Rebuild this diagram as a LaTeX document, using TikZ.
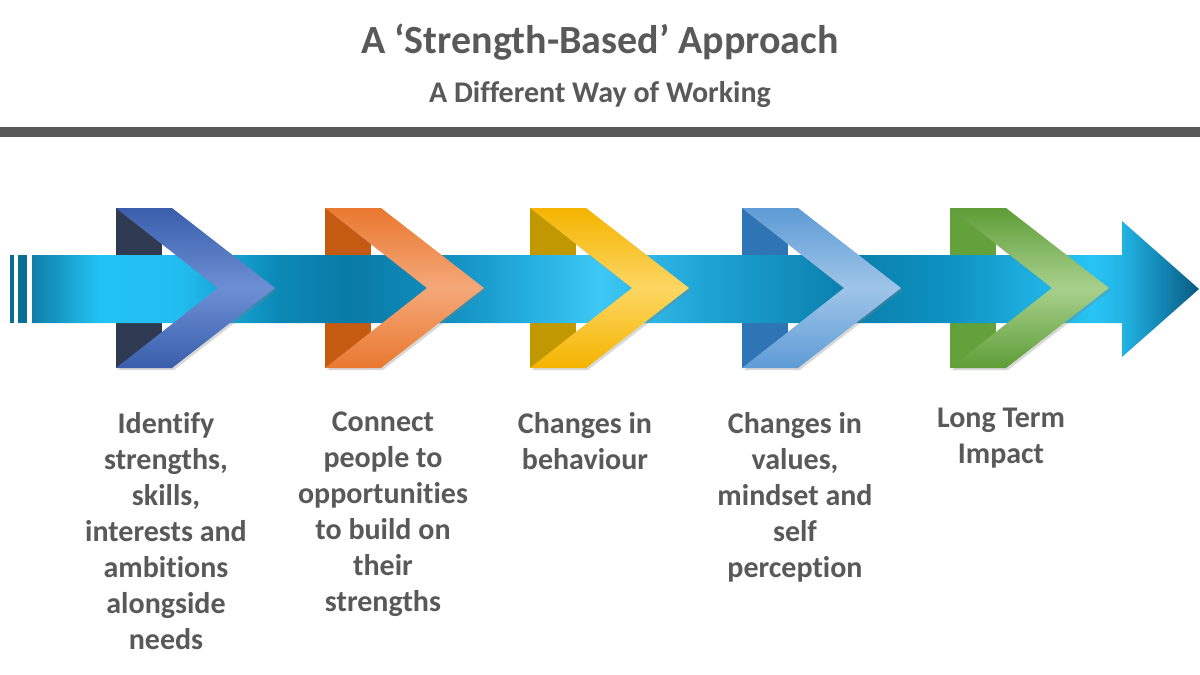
\documentclass[tikz,border=0pt]{standalone}
\usepackage{fontspec}
\setmainfont{Carlito}[Ligatures=CommonOff]
\usetikzlibrary{shadows}
\definecolor{txt}{HTML}{595959}
\definecolor{stripe}{HTML}{0A6F96}
\definecolor{sa}{HTML}{0F7EA8}
\definecolor{sb}{HTML}{22C3F4}
\definecolor{sc}{HTML}{22BDF0}
\definecolor{sd}{HTML}{0B88B5}
\definecolor{se}{HTML}{0A7AA6}
\definecolor{sf}{HTML}{1290C0}
\definecolor{sg}{HTML}{25AEE0}
\definecolor{sh}{HTML}{3EC8F5}
\definecolor{si}{HTML}{1FA5D6}
\definecolor{sj}{HTML}{0A7FAC}
\definecolor{sk}{HTML}{0E92C2}
\definecolor{sl}{HTML}{28C4F5}
\definecolor{sm}{HTML}{22B4E4}
\definecolor{sn}{HTML}{1488B6}
\definecolor{so}{HTML}{0A5A80}
\pgfdeclarehorizontalshading{shaftshade}{100bp}{color(0bp)=(sa); color(25bp)=(sa); color(27.9bp)=(sb); color(31.3bp)=(sc); color(35.6bp)=(sd); color(38.6bp)=(se); color(42.9bp)=(sf); color(46.3bp)=(sg); color(49.3bp)=(sh); color(53.6bp)=(si); color(60bp)=(sj); color(64.3bp)=(sk); color(70.5bp)=(sl); color(71.7bp)=(sm); color(73.3bp)=(sn); color(75bp)=(so); color(100bp)=(so)}
\definecolor{bka}{HTML}{2D3A52}\definecolor{eda}{HTML}{3A5EAB}\definecolor{mda}{HTML}{6C8FD4}
\definecolor{bkb}{HTML}{C55A11}\definecolor{edb}{HTML}{E9782F}\definecolor{mdb}{HTML}{F5A87A}
\definecolor{bkc}{HTML}{C29800}\definecolor{edc}{HTML}{F4B400}\definecolor{mdc}{HTML}{FDD663}
\definecolor{bkd}{HTML}{2E75B6}\definecolor{edd}{HTML}{5E9BD6}\definecolor{mdd}{HTML}{9FC5E8}
\definecolor{bke}{HTML}{63A23B}\definecolor{ede}{HTML}{5F9D37}\definecolor{mde}{HTML}{A8D08D}
\begin{document}
\begin{tikzpicture}[x=1pt,y=-1pt,
  lbl/.style={font=\bfseries\fontsize{30}{36}\selectfont, text=txt, align=center, inner sep=0pt, anchor=north},
  ttl/.style={font=\bfseries\fontsize{40}{44}\selectfont, text=txt, inner sep=0pt, anchor=base},
  subttl/.style={font=\bfseries\fontsize{30}{34}\selectfont, text=txt, inner sep=0pt, anchor=base}]
\useasboundingbox (0,0) rectangle (1200,675);
\fill[white] (0,0) rectangle (1200,675);
% title
\node[ttl] (title) at (600,53) {A ‘Strength-Based’ Approach};
\node[subttl] (subtitle) at (600,102) {A Different Way of Working};
\fill[txt] (0,127) rectangle (1200,137);
% back folds
\foreach \L/\bk in {116/bka,325/bkb,530/bkc,742/bkd,950/bke}
  \fill[\bk] (\L,208) rectangle (\L+46,368);
% stripes
\fill[stripe] (10,255) rectangle (14,323);
\fill[stripe] (18,255) rectangle (27,323);
% shaft with head
\path[shading=shaftshade] (32,255) -- (1122,255) -- (1122,221) -- (1199,289) -- (1122,357) -- (1122,323) -- (32,323) -- cycle;
% chevrons
\foreach \L/\ed/\md in {116/eda/mda,325/edb/mdb,530/edc/mdc,742/edd/mdd,950/ede/mde}
  \path[top color=\ed, bottom color=\ed, middle color=\md,
        drop shadow={shadow xshift=2pt, shadow yshift=-2pt, opacity=0.3}]
    (\L,208) -- (\L+56,208) -- (\L+159,288) -- (\L+56,368) -- (\L,368) -- (\L+102,288) -- cycle;
% labels
\node[lbl] (l1) at (166,412) {Identify\\strengths,\\skills,\\interests and\\ambitions\\alongside\\needs};
\node[lbl] (l2) at (383,412) {Connect\\people to\\opportunities\\to build on\\their\\strengths};
\node[lbl] (l3) at (585,412) {Changes in\\behaviour};
\node[lbl] (l4) at (795,412) {Changes in\\values,\\mindset and\\self\\perception};
\node[lbl] (l5) at (1001,408) {Long Term\\Impact};
\end{tikzpicture}
\end{document}
